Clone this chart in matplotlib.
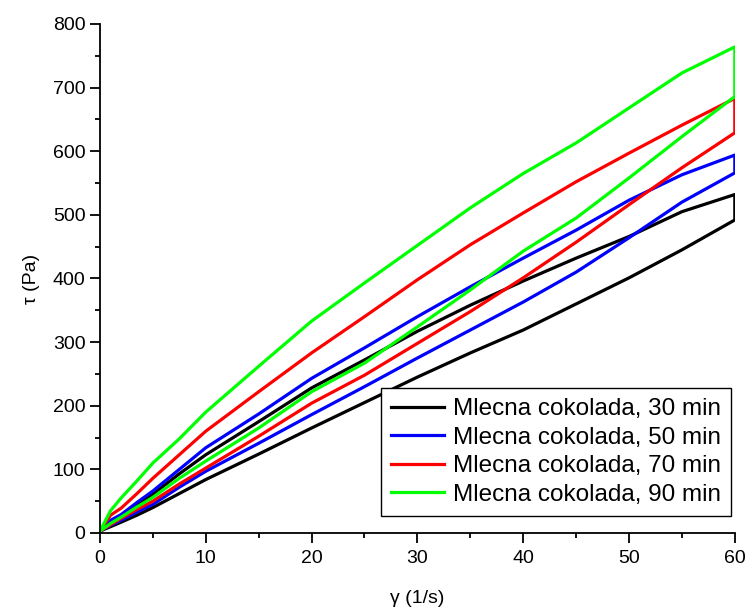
import matplotlib
matplotlib.use("Agg")
import matplotlib.pyplot as plt
from matplotlib.ticker import MultipleLocator

plt.rcParams['font.family'] = ['Liberation Sans', 'DejaVu Sans']

# shear rate points (1/s), same for up and down branch
gamma = [0, 1, 2, 3.5, 5, 7.5, 10, 15, 20, 25, 30, 35, 40, 45, 50, 55, 60]

# shear stress (Pa), up branch (increasing rate) and down branch
tau_up_30 = [3, 17, 26, 44, 61, 93, 123, 175, 228, 272, 317, 358, 396, 432, 466, 505, 532]
tau_down_30 = [3, 10, 17, 28, 40, 62, 84, 124, 165, 205, 245, 283, 319, 360, 401, 445, 492]

tau_up_50 = [3, 20, 29, 48, 66, 100, 134, 187, 243, 291, 340, 387, 432, 476, 523, 563, 594]
tau_down_50 = [3, 12, 20, 33, 45, 72, 97, 141, 186, 230, 275, 319, 363, 410, 464, 520, 566]

tau_up_70 = [3, 28, 39, 62, 86, 123, 160, 222, 283, 340, 398, 453, 503, 552, 597, 641, 683]
tau_down_70 = [3, 13, 23, 37, 50, 77, 102, 152, 204, 248, 298, 348, 401, 457, 516, 574, 629]

tau_up_90 = [3, 35, 55, 82, 110, 148, 190, 262, 333, 393, 452, 511, 565, 613, 668, 723, 764]
tau_down_90 = [3, 15, 25, 41, 56, 86, 113, 165, 222, 267, 324, 382, 443, 495, 558, 623, 686]

labels = ["Mlecna cokolada, 30 min", "Mlecna cokolada, 50 min",
          "Mlecna cokolada, 70 min", "Mlecna cokolada, 90 min"]
colors = ["#000000", "#0000ff", "#ff0000", "#00ff00"]

series = [(tau_up_30, tau_down_30), (tau_up_50, tau_down_50),
          (tau_up_70, tau_down_70), (tau_up_90, tau_down_90)]

fig = plt.figure(figsize=(7.46, 6.09), dpi=100)
ax = fig.add_axes([0.134, 0.1248, 0.851, 0.8358])

for (up, down), lab, col in zip(series, labels, colors):
    # hysteresis loop: go up then come back down
    xs = gamma + gamma[::-1]
    ys = up + down[::-1]
    ax.plot(xs, ys, color=col, lw=2.3, label=lab)

ax.set_xlim(0, 60)
ax.set_ylim(0, 800)
ax.xaxis.set_major_locator(MultipleLocator(10))
ax.xaxis.set_minor_locator(MultipleLocator(5))
ax.yaxis.set_major_locator(MultipleLocator(100))
ax.yaxis.set_minor_locator(MultipleLocator(50))

for s in ['top', 'right']:
    ax.spines[s].set_visible(False)
for s in ['left', 'bottom']:
    ax.spines[s].set_linewidth(1.3)

ax.tick_params(which='major', direction='out', length=7, width=1.3, labelsize=14)
ax.tick_params(which='minor', direction='out', length=3.5, width=1.3)
ax.tick_params(axis='x', pad=5)

ax.set_xlabel("γ (1/s)", fontsize=14, labelpad=17)
ax.set_ylabel("τ (Pa)", fontsize=14, labelpad=9)

leg = ax.legend(loc='upper right', bbox_to_anchor=(0.994, 0.285), borderaxespad=0,
                fontsize=17.5, frameon=True, fancybox=False, handlelength=2.2,
                handletextpad=0.35, labelspacing=0.27, borderpad=0.42)
leg.get_frame().set_edgecolor('black')
leg.get_frame().set_linewidth(1.0)
leg.get_frame().set_alpha(1)

fig.savefig("out.png", dpi=100)
